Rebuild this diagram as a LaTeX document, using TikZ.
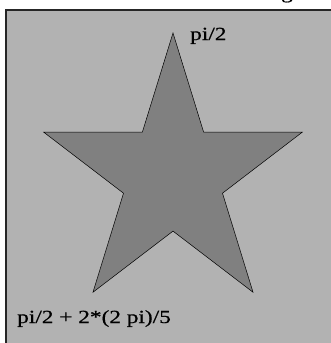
\documentclass[tikz,border=0pt]{standalone}
\usepackage{fontspec}
\setmainfont{Liberation Serif}[FakeStretch=1.26,FakeBold=0.7]
\definecolor{bggray}{gray}{0.70}
\definecolor{stargray}{gray}{0.50}
\tikzset{
  lbl/.style={anchor=base west, inner sep=0pt, font=\fontsize{18.5}{22}\selectfont},
  panel/.style={fill=bggray, draw=black!85, line width=1.3pt},
  starshape/.style={fill=stargray, draw=black, line width=0.5pt, line join=miter}
}
\begin{document}
\begin{tikzpicture}[x=1pt,y=-1pt]
\useasboundingbox (0,0) rectangle (331,343);
\begin{scope}
\clip (0,0) rectangle (331,343);
\node[lbl] (title) at (281,-1.5) {g};
\draw[panel] (6,10) rectangle (345,360);
\coordinate (o1) at (173,33);
\coordinate (i1) at (142.4,132);
\coordinate (o2) at (43.5,132);
\coordinate (i2) at (123.5,193.2);
\coordinate (o3) at (93,292.2);
\coordinate (i3) at (173,231.1);
\coordinate (o4) at (253,292.2);
\coordinate (i4) at (222.5,193.2);
\coordinate (o5) at (302.5,132);
\coordinate (i5) at (203.6,132);
\draw[starshape] (o1) -- (i1) -- (o2) -- (i2) -- (o3) -- (i3) -- (o4) -- (i4) -- (o5) -- (i5) -- cycle;
\node[lbl] (top) at (190,40) {pi/2};
\node[lbl] (bot) at (17,323) {pi/2 + 2*(2 pi)/5};
\end{scope}
\end{tikzpicture}
\end{document}
